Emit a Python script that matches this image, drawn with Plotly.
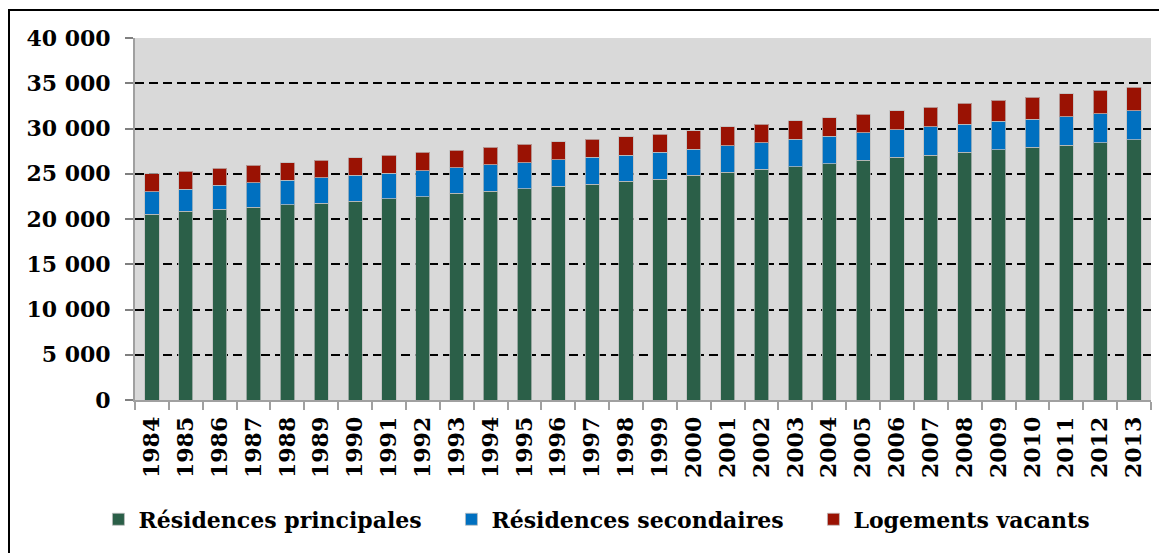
import plotly.graph_objects as go

years = [str(y) for y in range(1984, 2014)]
principales = [20520, 20850, 21070, 21290, 21550, 21730, 21950, 22250, 22470, 22840,
               23060, 23320, 23610, 23830, 24160, 24420, 24830, 25160, 25490, 25780,
               26110, 26490, 26820, 27040, 27370, 27630, 27920, 28140, 28430, 28730]
secondaires = [2500, 2465, 2650, 2690, 2720, 2840, 2880, 2800, 2870, 2830,
               2910, 2900, 2910, 2980, 2870, 2950, 2870, 2910, 2940, 3020,
               3030, 3050, 3050, 3160, 3100, 3170, 3130, 3170, 3210, 3230]
vacants = [1980, 1955, 1880, 1950, 1920, 1910, 1950, 2020, 2030, 1950,
           1950, 2030, 1990, 1990, 2070, 2020, 2060, 2100, 2040, 2030,
           2050, 2060, 2090, 2170, 2300, 2340, 2420, 2530, 2560, 2610]
series_names = ["Résidences principales", "Résidences secondaires", "Logements vacants"]
colors = ["#2B5F48", "#0070C0", "#9A1203"]
legend_widths = [308, 317, 240]

FONT = "DejaVu Serif"

fig = go.Figure()
for name, vals, col, lw in zip(series_names, [principales, secondaires, vacants], colors, legend_widths):
    fig.add_trace(go.Bar(
        x=years, y=vals, name=name,
        marker=dict(color=col, line=dict(color="rgba(190,190,190,0.75)", width=1)),
        legendwidth=lw,
    ))

fig.update_layout(
    width=1159, height=545,
    barmode="stack", bargap=0.58,
    paper_bgcolor="white", plot_bgcolor="#D9D9D9",
    margin=dict(l=127, r=16, t=30, b=153),
    separators=", ",
    font=dict(family=FONT, size=22, color="black", weight="bold"),
    showlegend=True,
    legend=dict(
        orientation="h", x=-0.036, xanchor="left", y=-0.33, yanchor="middle",
        font=dict(family=FONT, size=22, color="black", weight="bold"),
        bgcolor="rgba(0,0,0,0)", traceorder="normal",
    ),
    shapes=[dict(
        type="rect", xref="paper", yref="paper",
        xsizemode="pixel", xanchor=0, x0=-126, x1=1200,
        ysizemode="pixel", yanchor=1, y0=28, y1=-700,
        line=dict(color="black", width=2), fillcolor="rgba(0,0,0,0)", layer="above",
    )],
)

fig.update_xaxes(
    type="category", tickangle=-90,
    showline=True, linecolor="#A0A0A0", linewidth=2,
    ticks="outside", tickson="boundaries", ticklen=8, tickcolor="#A0A0A0", tickwidth=2,
    ticklabelstandoff=6,
    showgrid=False,
    tickfont=dict(family=FONT, size=22, color="black", weight="bold"),
)
fig.update_yaxes(
    range=[0, 40000], dtick=5000, tickformat=",d",
    showline=True, linecolor="#A0A0A0", linewidth=2,
    ticks="outside", ticklen=8, tickcolor="#808080", tickwidth=2,
    ticklabelstandoff=10,
    showgrid=True, gridcolor="black", gridwidth=2, griddash="9px,5px",
    zeroline=False,
    tickfont=dict(family=FONT, size=22, color="black", weight="bold"),
)

fig.write_html("out.html")
